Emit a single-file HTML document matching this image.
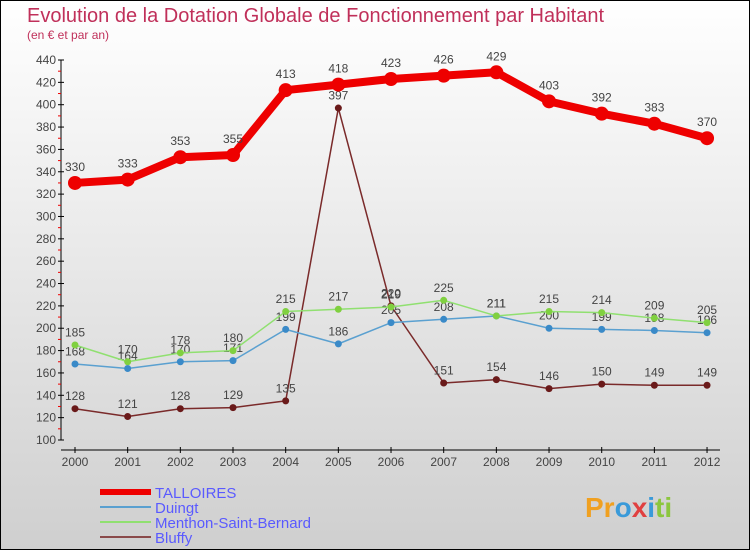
<!DOCTYPE html>
<html><head><meta charset="utf-8">
<style>
body{margin:0;width:750px;height:550px;overflow:hidden;font-family:"Liberation Sans",sans-serif}
</style></head><body>
<svg width="750" height="550" xmlns="http://www.w3.org/2000/svg">
<defs><linearGradient id="bg" x1="0" y1="0" x2="0" y2="1"><stop offset="0" stop-color="#ffffff"/><stop offset="1" stop-color="#cfcfcf"/></linearGradient></defs>
<rect x="0.5" y="0.5" width="749" height="549" fill="url(#bg)" stroke="#000"/>
<text x="27" y="22" font-size="20" fill="#c0305a">Evolution de la Dotation Globale de Fonctionnement par Habitant</text>
<text x="27" y="39" font-size="12" fill="#c0305a">(en € et par an)</text>
<g id="axes"></g>
<g id="series"></g>
<g id="legend"></g>
<text x="585" y="517" font-size="28" font-weight="bold"><tspan fill="#f0a020">Pr</tspan><tspan fill="#3a9ad9">o</tspan><tspan fill="#e04040">x</tspan><tspan fill="#3a9ad9">i</tspan><tspan fill="#8cc63f">ti</tspan></text>
</svg>
<script>
const years=[2000,2001,2002,2003,2004,2005,2006,2007,2008,2009,2010,2011,2012];
const yTicks=[100,120,140,160,180,200,220,240,260,280,300,320,340,360,380,400,420,440];
const talloires=[330,333,353,355,413,418,423,426,429,403,392,383,370];
const duingt=[168,164,170,171,199,186,205,208,211,200,199,198,196];
const menthon=[185,170,178,180,215,217,219,225,211,215,214,209,205];
const bluffy=[128,121,128,129,135,397,220,151,154,146,150,149,149];
const NS="http://www.w3.org/2000/svg";
const X=i=>75+i*52.67;
const Y=v=>440-(v-100)*(380/340);
function mk(t,a,p){const e=document.createElementNS(NS,t);for(const k in a)e.setAttribute(k,a[k]);p.appendChild(e);return e;}
const ax=document.getElementById('axes');
let l=mk('line',{x1:61,y1:Y(440),x2:61,y2:Y(100),stroke:'#000'},ax);


l=mk('line',{x1:61,y1:450,x2:720,y2:450,stroke:'#000'},ax);


yTicks.forEach((v,i)=>{
  mk('line',{x1:58,y1:Y(v),x2:64,y2:Y(v),stroke:'#000'},ax);
  if(i<yTicks.length-1) mk('line',{x1:58,y1:Y(v+10),x2:61,y2:Y(v+10),stroke:'#e00'},ax);
  const t=mk('text',{x:56,y:Y(v)+4,'font-size':12,fill:'#444','text-anchor':'end'},ax);
  t.textContent=v;
  
  
});
years.forEach((y,i)=>{
  mk('line',{x1:X(i),y1:447,x2:X(i),y2:453,stroke:'#000'},ax);
  const t=mk('text',{x:X(i),y:466,'font-size':12,fill:'#444','text-anchor':'middle'},ax);
  t.textContent=y;
  
  
});
const sg=document.getElementById('series');
function series(data,color,lw,r,name,fill){
  const g=mk('g',{},sg);
  
  
  const pts=data.map((v,i)=>X(i)+','+Y(v)).join(' ');
  mk('polyline',{points:pts,fill:'none',stroke:color,'stroke-width':lw,'stroke-linejoin':'round'},g);
  data.forEach((v,i)=>{
    const c=mk('circle',{cx:X(i),cy:Y(v),r:r,fill:fill||color},g);
    
    
    const t=mk('text',{x:X(i),y:Y(v)-r-5,'font-size':12,fill:'#444','text-anchor':'middle'},g);
    t.textContent=v;
    
    
  });
}
series(bluffy,'#7a2a2a',1.5,3.5,'bluffy','#6a1a1a');
series(duingt,'#5aa0d0',1.5,3.5,'duingt','#3a8ac8');
series(menthon,'#90e070',1.5,3.5,'menthon','#80d040');
series(talloires,'#ee0000',8,7,'talloires');
const lg=document.getElementById('legend');
[['TALLOIRES','#ee0000',6],['Duingt','#5aa0d0',2],['Menthon-Saint-Bernard','#90e070',2],['Bluffy','#8a4a4a',2]].forEach((s,i)=>{
  const y=492+i*15;
  const g=mk('g',{},lg);
  
  
  mk('line',{x1:100,y1:y,x2:151,y2:y,stroke:s[1],'stroke-width':s[2]},g);
  const t=mk('text',{x:155,y:y+6,'font-size':15,fill:'#5a5aff'},g);
  t.textContent=s[0];
});
</script>
</body></html>
